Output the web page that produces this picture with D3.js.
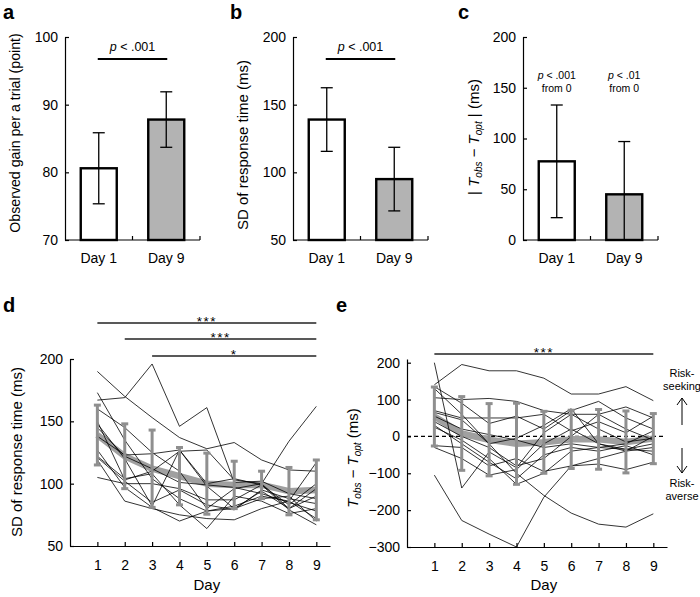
<!DOCTYPE html>
<html><head><meta charset="utf-8">
<script src="https://cdn.jsdelivr.net/npm/d3@7"></script>
<style>
body{margin:0;background:#fff}
text{font-family:"Liberation Sans",Arial,Helvetica,sans-serif;fill:#000}
</style>
</head><body>
<svg id="chart" width="700" height="597"></svg>
<script>
// ---------------- data ----------------
const barDays = ["Day 1", "Day 9"];
const gainMean = [80.6, 87.8];
const gainErr  = [5.25, 4.1];
const sdMean   = [139, 95];
const sdErr    = [23.5, 23.5];
const absMean  = [77.5, 45];
const absErr   = [55.5, 52];
const barFills = ["#ffffff", "#b3b3b3"];

const gainTicks = [70, 80, 90, 100];
const sdTicks   = [50, 100, 150, 200];
const absTicks  = [0, 50, 100, 150, 200];
const devTicks  = [-300, -200, -100, 0, 100, 200];
const days = [1, 2, 3, 4, 5, 6, 7, 8, 9];

const sdDayMean = [139, 122, 112, 106, 100, 99, 99, 94, 95];
const sdDaySD   = [24, 26, 31, 23, 24.5, 19, 11, 19, 24];
const sdS1  = [190, 170, 153, 137, 128, 133, 119, 111, 110];
const sdS2  = [167, 169, 196, 146, 161, 101, 102, 92, 88];
const sdS3  = [173, 135, 104, 88, 78, 82, 90, 86, 72];
const sdS4  = [160, 145, 125, 110, 80, 96, 100, 80, 90];
const sdS5  = [150, 103, 110, 126, 127, 103, 100, 134, 162];
const sdS6  = [148, 120, 82, 127, 100, 104, 99, 79, 67];
const sdS7  = [145, 122, 112, 101, 99, 97, 92, 85, 78];
const sdS8  = [138, 123, 124, 127, 98, 80, 94, 80, 96];
const sdS9  = [127, 97, 81, 70, 78, 80, 88, 90, 70];
const sdS10 = [122, 104, 108, 83, 64, 90, 86, 76, 80];
const sdS11 = [121, 102, 85, 95, 83, 79, 95, 88, 84];
const sdS12 = [119, 86, 80, 75, 72, 71, 80, 86, 117];
const sdS13 = [105, 100, 100, 96, 87, 87, 99, 83, 100];
const sdSubjects = [sdS1, sdS2, sdS3, sdS4, sdS5, sdS6, sdS7, sdS8, sdS9, sdS10, sdS11, sdS12, sdS13];

const devDayMean = [54, 8, -9, -20, -16, -8, -8, -15, -6];
const devDaySD   = [80, 100, 98, 110, 84, 79, 81, 84, 68];
const devS1  = [140, 195, 178, 178, 158, 115, 115, 135, 97];
const devS2  = [200, -140, -42, -85, 10, 60, 20, -15, -5];
const devS3  = [-105, -228, -265, -300, -165, -80, -60, -40, -30];
const devS4  = [130, 60, -20, -100, -160, -208, -238, -246, -210];
const devS5  = [105, 100, 103, 95, 70, 60, 60, 80, 50];
const devS6  = [135, 90, 35, 55, 20, 70, 95, 50, 20];
const devS7  = [70, 50, 50, 50, 60, 15, 40, 10, 55];
const devS8  = [65, 45, -20, -5, 30, 75, -20, -40, 0];
const devS9  = [40, 0, -30, -80, -60, 0, 60, 20, -10];
const devS10 = [30, -20, -70, -115, -50, -30, -40, -25, -50];
const devS11 = [25, -10, -60, -130, -100, -40, -30, -20, 15];
const devS12 = [-25, -30, -80, -60, -95, -80, -75, -90, -70];
const devS13 = [-30, -60, -105, -90, -20, 20, -20, -35, -20];
const devS14 = [55, 20, 5, -10, -30, -20, -30, -35, -40];
const devSubjects = [devS1, devS2, devS3, devS4, devS5, devS6, devS7, devS8, devS9, devS10, devS11, devS12, devS13, devS14];

// ---------------- drawing ----------------
const svg = d3.select("#chart");

function panelLabel(t, x, y) {
  svg.append("text").attr("x", x).attr("y", y).attr("font-size", 20)
    .attr("font-weight", "bold").text(t);
}

function yAxis(scale, x, ticks) {
  const g = svg.append("g").attr("transform", `translate(${x},0)`)
    .call(d3.axisLeft(scale).tickValues(ticks).tickSizeInner(-4).tickSizeOuter(0).tickPadding(7));
  g.selectAll("text").attr("font-size", 14).style("font-family", '"Liberation Sans",Arial,sans-serif');
  g.selectAll("path,line").attr("stroke", "#000").attr("stroke-width", 1.2);
  return g;
}

function barPanel(o) {
  const y = d3.scaleLinear().domain(o.domain).range([240, 37]);
  const x = d3.scalePoint().domain(barDays).range([o.left, o.left + 135]).padding(0.5);
  const step = x.step();
  yAxis(y, o.left, o.ticks);
  svg.append("line").attr("x1", o.left).attr("x2", o.left + 135)
    .attr("y1", 240).attr("y2", 240).attr("stroke", "#000").attr("stroke-width", 1.2);
  barDays.forEach((d, i) => {
    svg.append("line").attr("x1", x(d) + step / 2).attr("x2", x(d) + step / 2)
      .attr("y1", 240).attr("y2", 236).attr("stroke", "#000").attr("stroke-width", 1.2);
    svg.append("text").attr("x", x(d)).attr("y", 263).attr("text-anchor", "middle")
      .attr("font-size", 14).text(d);
  });
  const bw = 36;
  svg.selectAll(null).data(o.mean).enter().append("rect")
    .attr("x", (d, i) => x(barDays[i]) - bw / 2)
    .attr("width", bw)
    .attr("y", d => y(d))
    .attr("height", d => 240 - y(d))
    .attr("fill", (d, i) => barFills[i])
    .attr("stroke", "#000").attr("stroke-width", 2.4);
  o.mean.forEach((m, i) => {
    const cx = x(barDays[i]);
    const lo = Math.max(o.domain[0], m - o.err[i]);
    const hi = m + o.err[i];
    const g = svg.append("g").attr("stroke", "#000").attr("stroke-width", 1.3);
    g.append("line").attr("x1", cx).attr("x2", cx).attr("y1", y(lo)).attr("y2", y(hi));
    g.append("line").attr("x1", cx - 6).attr("x2", cx + 6).attr("y1", y(hi)).attr("y2", y(hi));
    if (lo > o.domain[0])
      g.append("line").attr("x1", cx - 6).attr("x2", cx + 6).attr("y1", y(lo)).attr("y2", y(lo));
  });
  if (o.sig) {
    svg.append("line").attr("x1", x(barDays[0]) - 1).attr("x2", x(barDays[1]) + 1)
      .attr("y1", 59).attr("y2", 59).attr("stroke", "#000").attr("stroke-width", 2);
    const t = svg.append("text").attr("x", (x(barDays[0]) + x(barDays[1])) / 2).attr("y", 51)
      .attr("text-anchor", "middle").attr("font-size", 12.5);
    t.append("tspan").attr("font-style", "italic").text("p");
    t.append("tspan").text(" < .001");
  }
  return {x, y};
}

// Panel a
panelLabel("a", 3, 19);
barPanel({left: 65, domain: [70, 100], ticks: gainTicks, mean: gainMean, err: gainErr, sig: true});
svg.append("text").attr("transform", "translate(20,133) rotate(-90)")
  .attr("text-anchor", "middle").attr("font-size", 14.2).text("Observed gain per a trial (point)");

// Panel b
panelLabel("b", 230, 19);
barPanel({left: 293, domain: [50, 200], ticks: sdTicks, mean: sdMean, err: sdErr, sig: true});
svg.append("text").attr("transform", "translate(248,145) rotate(-90)")
  .attr("text-anchor", "middle").attr("font-size", 15).text("SD of response time (ms)");

// Panel c
panelLabel("c", 458, 19);
const pc = barPanel({left: 523, domain: [0, 200], ticks: absTicks, mean: absMean, err: absErr, sig: false});
[["< .001"], ["< .01"]].forEach((s, i) => {
  const cx = pc.x(barDays[i]);
  const t = svg.append("text").attr("x", cx).attr("y", 79).attr("text-anchor", "middle").attr("font-size", 10.5);
  t.append("tspan").attr("font-style", "italic").text("p");
  t.append("tspan").text(" " + s[0]);
  svg.append("text").attr("x", cx).attr("y", 92).attr("text-anchor", "middle").attr("font-size", 10.5).text("from 0");
});
{
  const t = svg.append("text").attr("transform", "translate(479,137) rotate(-90)")
    .attr("text-anchor", "middle").attr("font-size", 15);
  t.append("tspan").text("| ");
  t.append("tspan").attr("font-style", "italic").text("T");
  t.append("tspan").attr("font-size", 10).attr("font-style", "italic").attr("dy", 3).text("obs");
  t.append("tspan").attr("dy", -3).text(" − ");
  t.append("tspan").attr("font-style", "italic").text("T");
  t.append("tspan").attr("font-size", 10).attr("font-style", "italic").attr("dy", 3).text("opt");
  t.append("tspan").attr("dy", -3).text(" | (ms)");
}

// line panels
function linePanel(o) {
  const x = d3.scaleLinear().domain([0, 9.5]).range([o.left, o.left + 260]);
  const y = d3.scaleLinear().domain(o.domain).range(o.range);
  yAxis(y, o.left, o.ticks);
  const gx = svg.append("g").attr("transform", `translate(0,${o.range[0]})`)
    .call(d3.axisBottom(x).tickValues(days).tickSizeInner(-4).tickSizeOuter(0).tickPadding(14).tickFormat(d3.format("d")));
  gx.selectAll("text").attr("font-size", 14).style("font-family", '"Liberation Sans",Arial,sans-serif');
  gx.selectAll("path,line").attr("stroke", "#000").attr("stroke-width", 1.2);
  svg.append("text").attr("x", x(5)).attr("y", 590).attr("text-anchor", "middle")
    .attr("font-size", 15).text("Day");
  if (o.zero !== undefined) {
    svg.append("line").attr("x1", o.left).attr("x2", o.left + 256)
      .attr("y1", y(0)).attr("y2", y(0)).attr("stroke", "#000")
      .attr("stroke-width", 1.1).attr("stroke-dasharray", "4,3");
  }
  const line = d3.line().x((d, i) => x(days[i])).y(d => y(d));
  svg.append("path").attr("d", line(o.mean)).attr("fill", "none")
    .attr("stroke", "#a0a0a0").attr("stroke-width", 6.5).attr("stroke-linejoin", "round");
  svg.selectAll(null).data(o.subjects).enter().append("path")
    .attr("d", d => line(d)).attr("fill", "none").attr("stroke", "#000").attr("stroke-width", 0.8);
  o.mean.forEach((m, i) => {
    const cx = x(days[i]);
    const g = svg.append("g").attr("stroke", "#8f8f8f").attr("stroke-width", 3);
    g.append("line").attr("x1", cx).attr("x2", cx).attr("y1", y(m - o.sd[i])).attr("y2", y(m + o.sd[i]));
    g.append("line").attr("x1", cx - 3.5).attr("x2", cx + 3.5).attr("y1", y(m - o.sd[i])).attr("y2", y(m - o.sd[i]));
    g.append("line").attr("x1", cx - 3.5).attr("x2", cx + 3.5).attr("y1", y(m + o.sd[i])).attr("y2", y(m + o.sd[i]));
  });
  o.sigs.forEach(s => {
    svg.append("line").attr("x1", x(s.from)).attr("x2", x(9)).attr("y1", s.y).attr("y2", s.y)
      .attr("stroke", "#222").attr("stroke-width", 1.3);
    svg.append("text").attr("x", (x(s.from) + x(9)) / 2).attr("y", s.y + 3)
      .attr("text-anchor", "middle").attr("font-size", 13.5).attr("letter-spacing", 1.5).text(s.t);
  });
  return {x, y};
}

// Panel d
panelLabel("d", 3, 312);
linePanel({left: 70, domain: [50, 200], range: [546, 359], ticks: sdTicks,
  mean: sdDayMean, sd: sdDaySD, subjects: sdSubjects,
  sigs: [{from: 1, y: 323, t: "***"}, {from: 2, y: 339, t: "***"}, {from: 3, y: 356, t: "*"}]});
svg.append("text").attr("transform", "translate(22,452) rotate(-90)")
  .attr("text-anchor", "middle").attr("font-size", 15).text("SD of response time (ms)");

// Panel e
panelLabel("e", 336, 312);
linePanel({left: 407, domain: [-300, 210], range: [547, 359], ticks: devTicks, zero: true,
  mean: devDayMean, sd: devDaySD, subjects: devSubjects,
  sigs: [{from: 1, y: 354, t: "***"}]});
{
  const t = svg.append("text").attr("transform", "translate(358,458) rotate(-90)")
    .attr("text-anchor", "middle").attr("font-size", 15);
  t.append("tspan").attr("font-style", "italic").text("T");
  t.append("tspan").attr("font-size", 10).attr("font-style", "italic").attr("dy", 3).text("obs");
  t.append("tspan").attr("dy", -3).text(" − ");
  t.append("tspan").attr("font-style", "italic").text("T");
  t.append("tspan").attr("font-size", 10).attr("font-style", "italic").attr("dy", 3).text("opt");
  t.append("tspan").attr("dy", -3).text(" (ms)");
}
// risk annotations
[["Risk-", 377], ["seeking", 390], ["Risk-", 487], ["averse", 500]].forEach(([s, yy]) => {
  svg.append("text").attr("x", 682).attr("y", yy).attr("text-anchor", "middle").attr("font-size", 11).text(s);
});
const ag = svg.append("g").attr("stroke", "#000").attr("stroke-width", 1).attr("fill", "none");
ag.append("line").attr("x1", 682).attr("x2", 682).attr("y1", 425).attr("y2", 398);
ag.append("polyline").attr("points", "677,405 682,398 687,405");
ag.append("line").attr("x1", 682).attr("x2", 682).attr("y1", 448).attr("y2", 473);
ag.append("polyline").attr("points", "677,466 682,473 687,466");
</script>
</body></html>
